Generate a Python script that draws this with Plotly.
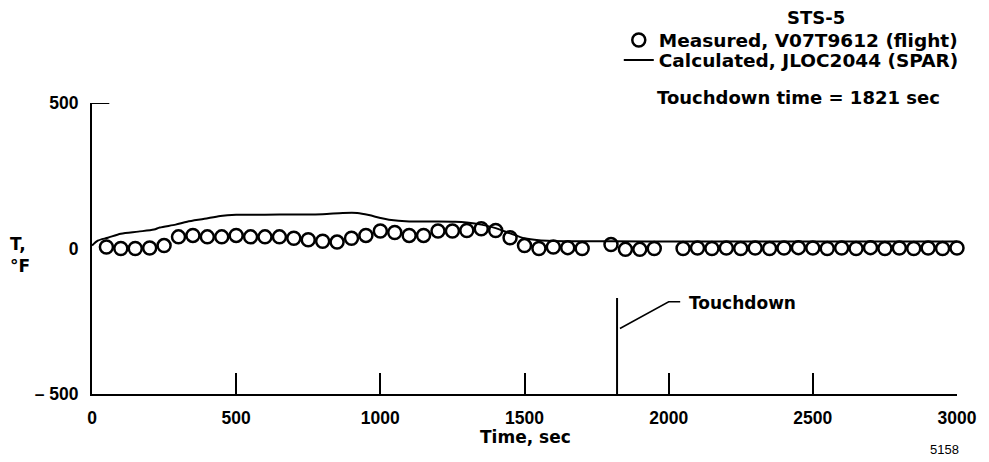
import plotly.graph_objects as go

# ---- data ----
meas_t = [50, 100, 150, 200, 250, 300, 350, 400, 450, 500, 550, 600, 650, 700, 750, 800,
          850, 900, 950, 1000, 1050, 1100, 1150, 1200, 1250, 1300, 1350, 1400, 1450, 1500,
          1550, 1600, 1650, 1700, 1800, 1850, 1900, 1950, 2050, 2100, 2150, 2200, 2250,
          2300, 2350, 2400, 2450, 2500, 2550, 2600, 2650, 2700, 2750, 2800, 2850, 2900,
          2950, 3000]
meas_T = [5, 0, 0, 2, 10, 40, 45, 40, 40, 45, 40, 40, 40, 35, 30, 25,
          22, 35, 45, 60, 55, 45, 45, 60, 60, 62, 68, 62, 37, 10,
          0, 5, 3, 0, 14, -3, -3, 0, 0, 2, 0, 2, 0,
          2, 0, 2, 3, 2, 0, 2, 0, 3, 0, 2, 0, 2,
          0, 2]

calc_t = [0, 20, 55, 100, 160, 215, 235, 290, 330, 390, 445, 500, 600, 700, 800, 870, 920,
          960, 1000, 1030, 1100, 1200, 1260, 1300, 1350, 1400, 1450, 1500, 1550, 1600, 1700,
          1800, 2000, 2500, 3000]
calc_T = [10, 27, 37, 51, 58, 65, 72, 82, 92, 102, 112, 116, 116, 117, 118, 122, 122,
          115, 105, 99, 93, 93, 92, 89, 82, 70, 52, 35, 28, 26, 25,
          25, 24, 24, 24]

x_ticks = [0, 500, 1000, 1500, 2000, 2500, 3000]
x_ticktext = ["0", "500", "1000", "1500", "2000", "2500", "3000"]
y_ticks = [-500, 0, 500]
y_ticktext = ["\u2013 500", "0", "500"]
touchdown_time = 1821

TXT = dict(family="DejaVu Sans", color="black", weight="bold")
NUM = dict(family="Liberation Sans", color="black", weight="bold")

fig = go.Figure()
fig.add_trace(go.Scatter(
    x=meas_t, y=meas_T, mode="markers", name="Measured, V07T9612 (flight)",
    marker=dict(symbol="circle-open", size=13, color="black", line=dict(width=2.5, color="black")),
    cliponaxis=False, legend="legend"))
fig.add_trace(go.Scatter(
    x=calc_t, y=calc_T, mode="lines", name="Calculated, JLOC2044 (SPAR)",
    line=dict(color="black", width=2, shape="spline", smoothing=0.8), legend="legend2"))

# axis decorations
fig.add_shape(type="line", xref="x", yref="y", x0=0, x1=60, y0=500, y1=500,
              line=dict(color="black", width=2))
fig.add_shape(type="line", xref="x", yref="y", x0=touchdown_time, x1=touchdown_time,
              y0=-500, y1=-170, line=dict(color="black", width=2))
fig.add_shape(type="path", xref="x", yref="y",
              path="M 1831,-275 L 2000,-183 L 2040,-183", line=dict(color="black", width=1.5))

fig.add_annotation(x=2062, y=-186, xref="x", yref="y", text="Touchdown", showarrow=False,
                   xanchor="left", yanchor="middle", font=dict(size=17, **TXT))
fig.add_annotation(x=0.8368, y=1.2955, xref="paper", yref="paper", text="STS-5", showarrow=False,
                   xanchor="center", yanchor="middle", font=dict(size=18, **TXT))
fig.add_annotation(x=0.6506, y=1.0206, xref="paper", yref="paper",
                   text="Touchdown time = 1821 sec", showarrow=False,
                   xanchor="left", yanchor="middle", font=dict(size=18, **TXT))
fig.add_annotation(x=-0.0828, y=0.4777, xref="paper", yref="paper", text="T,<br>\u00b0F",
                   showarrow=False, xanchor="center", yanchor="middle", align="left",
                   font=dict(size=17, **TXT))
fig.add_annotation(x=0.5011, y=-0.1478, xref="paper", yref="paper", text="Time, sec",
                   showarrow=False, xanchor="center", yanchor="middle", font=dict(size=17, **TXT))
fig.add_annotation(x=0.9855, y=-0.1924, xref="paper", yref="paper", text="5158",
                   showarrow=False, xanchor="center", yanchor="middle",
                   font=dict(size=13, family="Liberation Sans", color="black"))

LEG = dict(xanchor="left", yanchor="top", bgcolor="rgba(0,0,0,0)",
           font=dict(size=18.5, **TXT), itemsizing="trace")

fig.update_layout(
    width=989, height=462,
    margin=dict(l=92, r=27, t=103, b=68),
    plot_bgcolor="white", paper_bgcolor="white",
    showlegend=True,
    legend=dict(x=0.609, y=1.2804, **LEG),
    legend2=dict(x=0.609, y=1.2117, **LEG),
    xaxis=dict(range=[0, 3000], tickvals=x_ticks, ticktext=x_ticktext, ticks="inside",
               ticklen=21, tickwidth=1.5, tickcolor="black", showline=True, linewidth=1.5,
               linecolor="black", showgrid=False, zeroline=False, ticklabelstandoff=7,
               tickfont=dict(size=17.5, **NUM)),
    yaxis=dict(range=[-500, 500], tickvals=y_ticks, ticktext=y_ticktext, ticks="",
               showline=True, linewidth=2, linecolor="black", showgrid=False, zeroline=False,
               ticklabelstandoff=8, tickfont=dict(size=17.5, **NUM)),
)

fig.write_html("out.html")
